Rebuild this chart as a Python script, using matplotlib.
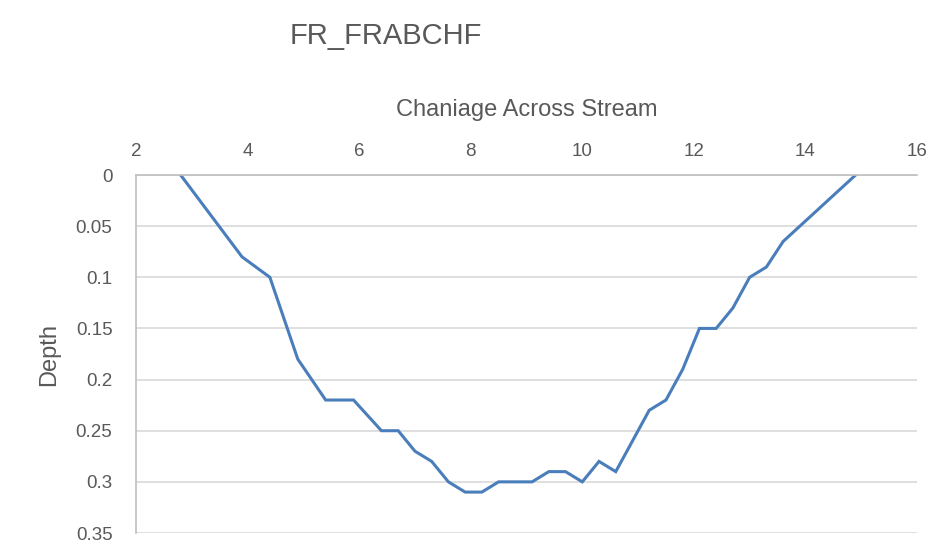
import numpy as np
import matplotlib
matplotlib.use('Agg')
import matplotlib.pyplot as plt

# Cross-section data
chainage = [2.8, 3.9, 4.4, 4.9, 5.4, 5.9, 6.4, 6.7, 7.0, 7.3, 7.6, 7.9, 8.2, 8.5,
            9.1, 9.4, 9.7, 10.0, 10.3, 10.6, 10.9, 11.2, 11.5, 11.8, 12.1, 12.4,
            12.7, 13.0, 13.3, 13.6, 14.9]
depth = [0.0, 0.08, 0.10, 0.18, 0.22, 0.22, 0.25, 0.25, 0.27, 0.28, 0.30, 0.31,
         0.31, 0.30, 0.30, 0.29, 0.29, 0.30, 0.28, 0.29, 0.26, 0.23, 0.22, 0.19,
         0.15, 0.15, 0.13, 0.10, 0.09, 0.065, 0.0]
xticks = [2, 4, 6, 8, 10, 12, 14, 16]
yticks = [0, 0.05, 0.1, 0.15, 0.2, 0.25, 0.3, 0.35]
ytick_labels = ['0', '0.05', '0.1', '0.15', '0.2', '0.25', '0.3', '0.35']

plt.rcParams['font.family'] = ['Liberation Sans', 'DejaVu Sans']
grey = '#595959'

fig = plt.figure(figsize=(9.45, 5.58), dpi=100)
ax = fig.add_axes([136/945, 1 - 533/558, (917 - 136)/945, (533 - 175)/558])

ax.plot(chainage, depth, color='#4a7ebb', lw=2.2, solid_joinstyle='miter')

ax.set_xlim(2, 16)
ax.set_ylim(0.35, 0)
ax.set_xticks(xticks)
ax.set_yticks(yticks)
ax.set_yticklabels(ytick_labels)
ax.xaxis.tick_top()
ax.xaxis.set_label_position('top')
ax.tick_params(length=0, labelsize=13.5, colors=grey)
ax.tick_params(axis='x', pad=11)
ax.tick_params(axis='y', pad=17)

ax.grid(axis='y', color='#d9d9d9', lw=1.2)
ax.set_axisbelow(True)
for side in ['right', 'bottom']:
    ax.spines[side].set_visible(False)
for side in ['top', 'left']:
    ax.spines[side].set_color('#bfbfbf')
    ax.spines[side].set_linewidth(1.2)

ax.set_xlabel('Chaniage Across Stream', fontsize=17, color=grey, labelpad=19)
ax.set_ylabel('Depth', fontsize=17, color=grey, labelpad=11)

fig.text(386/945, 1 - 36/558, 'FR_FRABCHF', fontsize=21, color=grey,
         ha='center', va='center')

plt.savefig('out.png', dpi=100)
